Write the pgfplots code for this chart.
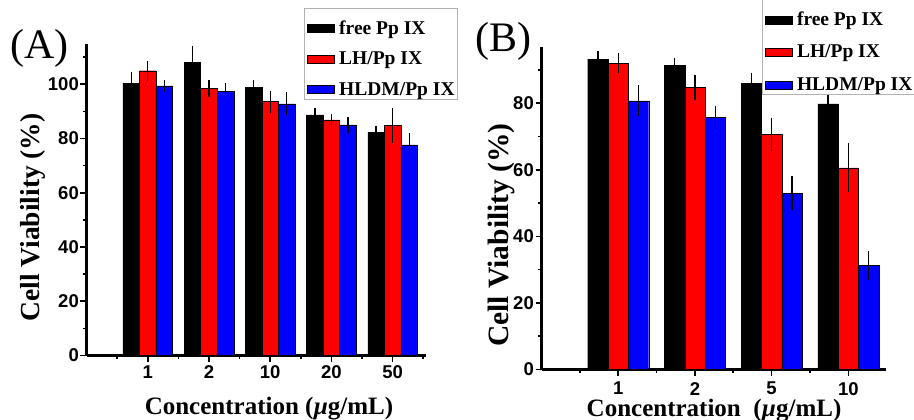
\documentclass[border=0pt]{standalone}
\usepackage{pgfplots}
\usepackage{pgfplotstable}
\pgfplotsset{compat=1.18}
\usepackage{fontspec}
\setmainfont{Liberation Serif}
\newfontfamily\ticksfont{Liberation Sans}

\pgfplotstableread{
x  k      ke   r      re   b     be
1  100.4  3.0  105.0  2.4  99.4  1.0
2  108.0  5.0  98.5   1.8  97.5  1.6
3  98.9   1.5  93.6   2.8  92.8  3.0
4  88.7   1.2  86.9   0.8  85.0  1.6
5  82.3   1.2  84.8   5.0  77.7  3.0
}\dataA
\pgfplotstableread{
x  k     ke   r     re   b     be
1  93.3  1.5  92.1  2.0  80.7  3.6
2  91.5  1.2  84.7  2.8  75.7  2.3
3  86.0  2.0  70.6  3.8  53.0  4.0
4  79.8  2.5  60.6  6.3  31.2  3.3
}\dataB

\pgfplotsset{
  barleg/.style={legend image code/.code={\draw[##1,draw=black,line width=0.4bp] (0bp,-9bp) rectangle (27.5bp,-1bp);}},
  errs/.style={error bars/.cd, y dir=both, y explicit,
     error bar style={black, line width=1.3bp},
     error mark options={black, line width=1.3bp, mark size=3.5bp}},
  panel/.style={
    scale only axis, clip=false,
    axis lines=left,
    axis line style={-, draw=black, line width=2.2bp},
    every outer x axis line/.append style={line width=2.2bp, black},
    every outer y axis line/.append style={line width=2.2bp, black},
    xmin=0, ymin=0,
    tick align=outside,
    major tick length=6bp, minor tick length=3.5bp,
    every tick/.style={black, line width=1.6bp},
    /pgf/number format/assume math mode=true,
    yticklabel style={font=\ticksfont\fontsize{18.5bp}{19bp}\selectfont\bfseries, inner sep=0pt, xshift=-1.5bp},
    xticklabel style={font=\ticksfont\fontsize{18.5bp}{19bp}\selectfont\bfseries, inner sep=0pt, anchor=north},
    ybar=0pt,
    legend cell align=left,
    legend style={draw=gray!60, line width=0.8bp, fill=white,
      inner xsep=2.5bp, inner ysep=2bp, column sep=4.5bp,
      font=\fontsize{19.5bp}{20bp}\selectfont\bfseries,
      nodes={inner sep=0pt, text height=23.4bp, text depth=2.3bp}},
  }
}

\begin{document}
\begin{tikzpicture}
\useasboundingbox (0,0) rectangle (914bp,420bp);

% Panel A
\begin{axis}[panel,
  at={(86.5bp,64.5bp)}, anchor=south west,
  width=339.2bp, height=311.9bp,
  xmax=5.54, ymax=115,
  xtick={1,2,3,4,5}, xticklabels={1,2,10,20,50},
  minor xtick={0.5,1.5,2.5,3.5,4.5,5.5},
  ytick={0,20,40,60,80,100}, minor ytick={10,30,50,70,90,110},
  xticklabel style={yshift=-4bp},
  bar width=0.27,
  xlabel={Concentration (\textit{µ}g/mL)},
  ylabel={Cell Viability (\%)},
  xlabel style={font=\fontsize{25bp}{26bp}\selectfont\bfseries, at={(axis description cs:0.538,-0.1876)}, anchor=base},
  ylabel style={font=\fontsize{27.5bp}{28bp}\selectfont\bfseries, at={(axis description cs:-0.1577,0.4425)}, anchor=center},
  legend style={at={(0.641,1.1132)}, anchor=north west, row sep=4.8bp},
]
\addplot[fill=black, draw=black, line width=0.4bp, bar shift=-0.27, barleg, errs] table[x=x, y=k, y error=ke] {\dataA};
\addplot[fill=red, draw=black, line width=0.4bp, bar shift=0, barleg, errs] table[x=x, y=r, y error=re] {\dataA};
\addplot[fill=blue, draw=black, line width=0.4bp, bar shift=0.27, barleg, errs] table[x=x, y=b, y error=be] {\dataA};
\legend{free Pp IX, LH/Pp IX, HLDM/Pp IX}
\node[anchor=west, inner sep=0pt, font=\fontsize{42bp}{42bp}\selectfont] at (axis description cs:-0.2255,0.986) {(A)};
\end{axis}

% Panel B
\begin{axis}[panel,
  at={(541.5bp,50.5bp)}, anchor=south west,
  width=344.4bp, height=322.8bp,
  xmax=4.49, ymax=97,
  xtick={1,2,3,4}, xticklabels={1,2,5,10},
  minor xtick={0.5,1.5,2.5,3.5},
  ytick={0,20,40,60,80}, minor ytick={10,30,50,70,90},
  xticklabel style={yshift=-6.5bp},
  bar width=0.265,
  xlabel={Concentration\ \ (\textit{µ}g/mL)},
  ylabel={Cell Viability (\%)},
  xlabel style={font=\fontsize{25bp}{26bp}\selectfont\bfseries, at={(axis description cs:0.501,-0.1462)}, anchor=base},
  ylabel style={font=\fontsize{29.5bp}{30bp}\selectfont\bfseries, at={(axis description cs:-0.1176,0.4167)}, anchor=center},
  legend style={at={(0.6394,0.8504)}, anchor=south west, row sep=6.8bp},
]
\addplot[fill=black, draw=black, line width=0.4bp, bar shift=-0.265, barleg, errs] table[x=x, y=k, y error=ke] {\dataB};
\addplot[fill=red, draw=black, line width=0.4bp, bar shift=0, barleg, errs] table[x=x, y=r, y error=re] {\dataB};
\addplot[fill=blue, draw=black, line width=0.4bp, bar shift=0.265, barleg, errs] table[x=x, y=b, y error=be] {\dataB};
\legend{free Pp IX, LH/Pp IX, HLDM/Pp IX}
\node[anchor=west, inner sep=0pt, font=\fontsize{42bp}{42bp}\selectfont] at (axis description cs:-0.193,1.0177) {(B)};
\end{axis}
\end{tikzpicture}
\end{document}
